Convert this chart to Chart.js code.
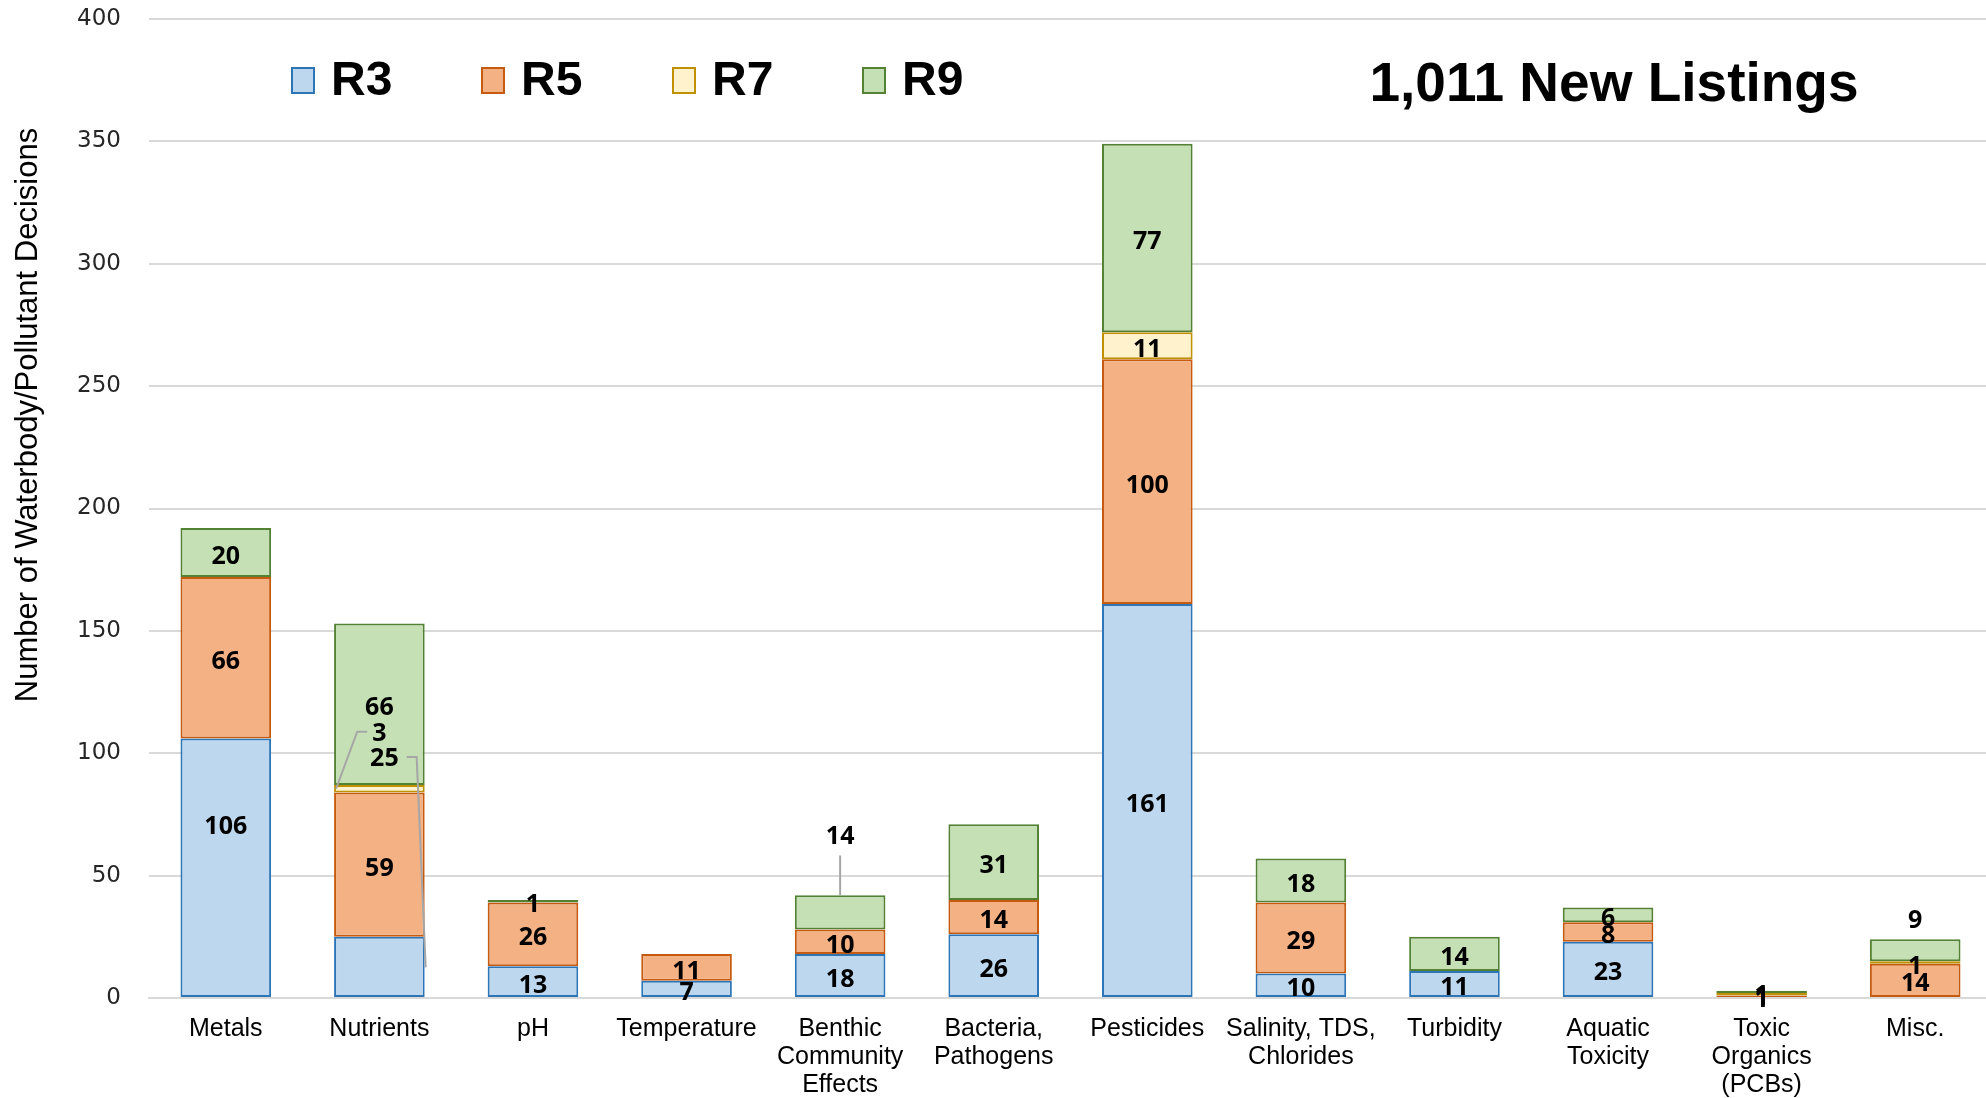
<!DOCTYPE html>
<html>
<head>
<meta charset="utf-8">
<script src="https://cdn.jsdelivr.net/npm/chart.js@4.4.1/dist/chart.umd.min.js"></script>
<style>
  html, body { margin: 0; padding: 0; background: #fff; overflow: hidden; }
  #wrap { width: 1986px; height: 1098px; position: relative; overflow: hidden; }
</style>
</head>
<body>
<div id="wrap"><canvas id="chart" width="1992" height="1098"></canvas></div>
<script>
// Categories and series values
const categories = [
    'Metals', 'Nutrients', 'pH', 'Temperature',
    ['Benthic', 'Community', 'Effects'], ['Bacteria,', 'Pathogens'],
    'Pesticides', ['Salinity, TDS,', 'Chlorides'], 'Turbidity',
    ['Aquatic', 'Toxicity'], ['Toxic', 'Organics', '(PCBs)'], 'Misc.'
];
const seriesNames = ['R3', 'R5', 'R7', 'R9'];
const r3 = [106, 25, 13, 7, 18, 26, 161, 10, 11, 23, 0, 0];
const r5 = [66, 59, 26, 11, 10, 14, 100, 29, 0, 8, 1, 14];
const r7 = [0, 3, 0, 0, 0, 0, 11, 0, 0, 0, 1, 1];
const r9 = [20, 66, 1, 0, 14, 31, 77, 18, 14, 6, 1, 9];
const yMax = 400;
const yStep = 50;
const headline = '1,011 New Listings';
const yTitle = 'Number of Waterbody/Pollutant Decisions';

const fills = ['#BDD7EE', '#F4B183', '#FFF2CC', '#C5E0B4'];
const borders = ['#2E75B6', '#C55A11', '#BF9000', '#548235'];

// labels moved off their segment (value = where the label sits on the y scale)
const callouts = [
    { ds: 0, idx: 0, value: 70 },
    { ds: 2, idx: 1, value: 108, leader: 'left', to: 85.5 },
    { ds: 0, idx: 1, value: 97.6, dx: 5, leader: 'right', to: 12.5 },
    { ds: 3, idx: 4, value: 66, leader: 'up' },
    { ds: 3, idx: 11, value: 31.5 }
];

const labelFont = 'bold 25px "Noto Sans"';

// Draw data labels, legend, headline and the axis title
const overlayPlugin = {
    id: 'overlay',
    afterDatasetsDraw(chart) {
        const ctx = chart.ctx;
        const y = chart.scales.y;
        ctx.save();
        ctx.font = labelFont;
        ctx.fillStyle = '#000';
        ctx.textAlign = 'center';
        ctx.textBaseline = 'middle';
        chart.data.datasets.forEach((ds, di) => {
            const meta = chart.getDatasetMeta(di);
            ds.data.forEach((v, i) => {
                if (!v) return;
                const bar = meta.data[i];
                let lx = bar.x;
                let ly = (bar.y + bar.base) / 2 + 4;
                const c = callouts.find(o => o.ds === di && o.idx === i);
                if (c) {
                    lx += c.dx || 0;
                    ly = y.getPixelForValue(c.value);
                    const tw = ctx.measureText(String(v)).width;
                    ctx.strokeStyle = '#A6A6A6';
                    ctx.lineWidth = 2;
                    ctx.beginPath();
                    if (c.leader === 'left') {
                        ctx.moveTo(lx - tw / 2 - 5, ly - 2);
                        ctx.lineTo(lx - tw / 2 - 15, ly - 2);
                        ctx.lineTo(bar.x - bar.width / 2 + 2, y.getPixelForValue(c.to));
                    } else if (c.leader === 'right') {
                        ctx.moveTo(lx + tw / 2 + 8, ly - 2);
                        ctx.lineTo(lx + tw / 2 + 18, ly - 2);
                        ctx.lineTo(bar.x + bar.width / 2 + 1, y.getPixelForValue(c.to));
                    } else if (c.leader === 'up') {
                        ctx.moveTo(lx, ly + 19);
                        ctx.lineTo(lx, bar.y);
                    }
                    if (c.leader) ctx.stroke();
                }
                ctx.fillText(String(v), lx, ly);
            });
        });

        // legend
        ctx.font = 'bold 48px "Liberation Sans"';
        ctx.textAlign = 'left';
        ctx.textBaseline = 'alphabetic';
        const legendX = [292, 482, 673, 863];
        seriesNames.forEach((name, k) => {
            ctx.fillStyle = fills[k];
            ctx.strokeStyle = borders[k];
            ctx.lineWidth = 2;
            ctx.fillRect(legendX[k], 68, 22, 25);
            ctx.strokeRect(legendX[k], 68, 22, 25);
            ctx.fillStyle = '#000';
            ctx.fillText(name, legendX[k] + 39, 95);
        });

        // headline
        ctx.font = 'bold 55px "Liberation Sans"';
        ctx.textAlign = 'center';
        ctx.fillText(headline, 1614, 101);

        // y axis title
        ctx.font = '31px "Liberation Sans"';
        ctx.textBaseline = 'middle';
        ctx.translate(28, 415);
        ctx.rotate(-Math.PI / 2);
        ctx.fillText(yTitle, 0, 0);
        ctx.restore();
    }
};

const seriesData = [r3, r5, r7, r9];
const datasets = seriesNames.map((name, k) => ({
    label: name,
    data: seriesData[k],
    backgroundColor: fills[k],
    borderColor: borders[k],
    borderWidth: 2,
    borderSkipped: false,
    barPercentage: 0.59,
    categoryPercentage: 1.0
}));

new Chart(document.getElementById('chart'), {
    type: 'bar',
    data: { labels: categories, datasets },
    options: {
        responsive: false,
        animation: false,
        layout: { padding: { top: 19, right: 0, left: 0, bottom: 0 } },
        plugins: {
            legend: { display: false },
            tooltip: { enabled: false }
        },
        scales: {
            x: {
                stacked: true,
                grid: { display: false },
                border: { color: '#D9D9D9', width: 2 },
                ticks: {
                    color: '#000',
                    font: { family: 'Liberation Sans', size: 25, lineHeight: 1.12 },
                    padding: 9,
                    maxRotation: 0,
                    autoSkip: false
                },
                afterFit(scale) { scale.height = 100; }
            },
            y: {
                stacked: true,
                min: 0,
                max: yMax,
                ticks: {
                    stepSize: yStep,
                    color: '#262626',
                    font: { family: 'DejaVu Sans', size: 23 },
                    padding: 28
                },
                grid: { color: '#D9D9D9', lineWidth: 2, drawTicks: false },
                border: { display: false },
                afterFit(scale) {
                    scale.width = 149;
                    scale.paddingTop = 0;
                    scale.paddingBottom = 0;
                }
            }
        }
    },
    plugins: [overlayPlugin]
});
</script>
</body>
</html>
